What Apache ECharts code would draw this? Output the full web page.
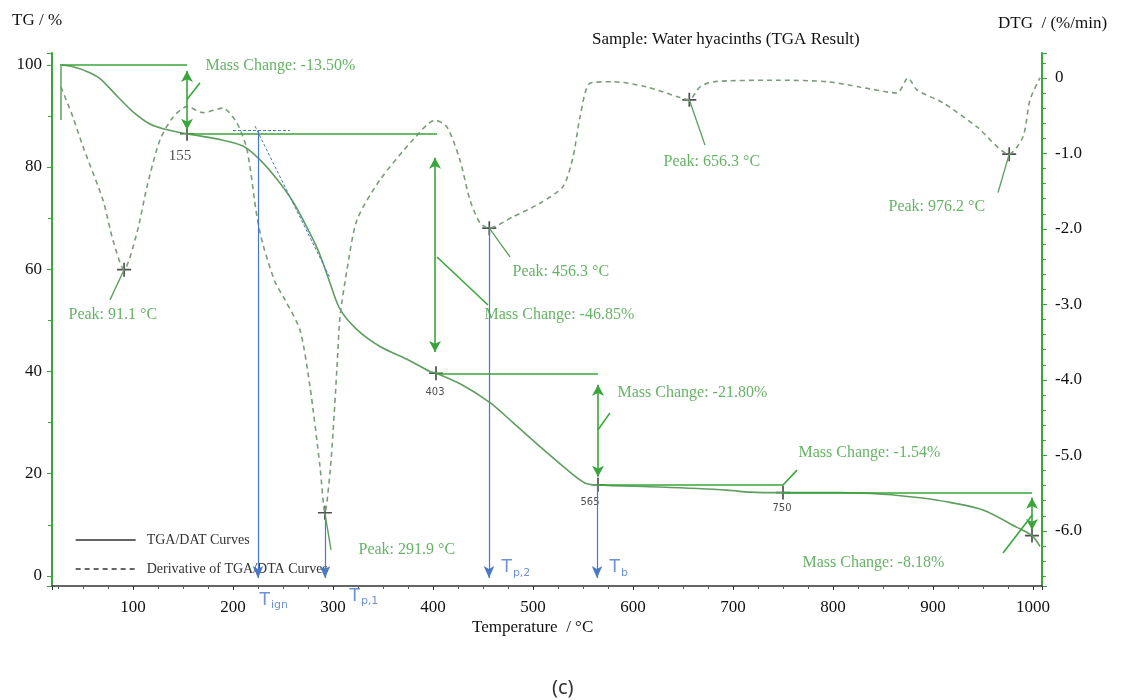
<!DOCTYPE html>
<html lang="en">
<head>
<meta charset="UTF-8">
<title>TGA</title>
<script src="https://cdn.jsdelivr.net/npm/echarts@6/dist/echarts.min.js"></script>
<style>
  html, body { margin: 0; padding: 0; background: #fff; }
  #main { width: 1127px; height: 700px; }
</style>
</head>
<body>
<div id="main"></div>
<script>
// TG curve (temperature / mass %)
var tgTemp = [27, 40, 55, 67, 84, 100, 117, 130, 154, 184, 210, 227, 244, 260, 277, 287, 297, 307, 324, 347, 374, 397, 403, 428, 457, 480, 507, 534, 552, 564, 627, 694, 717, 750, 807, 850, 887, 917, 950, 984, 999, 1007];
var tgMass = [100, 99.6, 98.6, 97.3, 93.9, 90.8, 88.4, 87.5, 86.5, 85.5, 84.1, 81.4, 77.6, 73.2, 67.0, 62.8, 57.3, 52.2, 48.2, 44.9, 42.4, 40.0, 39.7, 37.5, 33.9, 30.0, 25.3, 20.8, 18.2, 17.8, 17.4, 16.8, 16.4, 16.3, 16.3, 16.0, 15.3, 14.4, 12.9, 9.5, 7.9, 5.8];
// DTG curve (temperature / %/min)
var dtgTemp = [28, 40, 50, 70, 80, 91, 104, 114, 127, 140, 154, 170, 190, 204, 214, 224, 230, 242, 252, 267, 277, 287, 292, 297, 300, 304, 307, 314, 324, 347, 380, 402, 414, 427, 437, 447, 456, 480, 507, 530, 540, 547, 557, 580, 614, 647, 656, 667, 680, 747, 794, 827, 864, 875, 884, 910, 944, 976, 990, 997, 1007];
var dtgRate = [-0.12, -0.52, -0.91, -1.62, -2.15, -2.54, -2.05, -1.44, -0.82, -0.52, -0.38, -0.46, -0.40, -0.60, -0.95, -1.84, -2.21, -2.70, -2.94, -3.34, -4.09, -5.15, -5.76, -5.23, -4.70, -3.83, -3.17, -2.54, -1.88, -1.35, -0.82, -0.56, -0.65, -1.09, -1.62, -1.92, -1.99, -1.84, -1.66, -1.44, -1.05, -0.52, -0.07, -0.05, -0.12, -0.26, -0.29, -0.12, -0.05, -0.03, -0.05, -0.12, -0.20, 0.0, -0.16, -0.33, -0.65, -1.01, -0.78, -0.29, 0.0];

// annotations (TG axis): [t1, t2, mass]
var levels = [[28, 154, 100], [154, 404, 86.5], [403, 565, 39.65], [565, 750, 17.85], [750, 999, 16.31]];
// double arrows: [t, from, to]
var massArrows = [[154, 98.8, 87.3], [402, 81.8, 43.8], [565, 37.4, 19.4], [999, 15.3, 9.0]];
var massLeaders = [[154, 93.2, 167, 96.5], [404, 62.4, 455, 53.0], [565, 28.6, 577, 31.9], [750, 17.8, 764, 20.7], [970, 4.5, 999, 11.9]];
var massMarks = [[154, 86.5], [403, 39.65], [565, 17.85], [750, 16.31], [999, 7.9]];
// peaks (DTG axis)
var peakMarks = [[91.1, -2.54], [291.9, -5.76], [456.3, -1.99], [656.3, -0.29], [976.2, -1.01]];
var peakLeaders = [[91.1, -2.54, 77, -2.94], [291.9, -5.76, 298, -6.25], [456.3, -1.99, 477, -2.37], [656.3, -0.29, 672, -0.89], [976.2, -1.01, 965, -1.52]];
// characteristic temperatures (blue)
var blueDashed = [[200, 87.1, 257, 87.1], [222, 88.0, 297, 58.3]];
var blueArrows = [[225, 87.1], [292, 12.1], [456, 68.3], [564, 17.8]];

var greenTexts = [
  ['Mass Change: -13.50%', 172, 99.7],
  ['Peak: 91.1 °C', 35, 51.0],
  ['Mass Change: -46.85%', 451, 51.0],
  ['Peak: 456.3 °C', 479, 59.5],
  ['Mass Change: -21.80%', 584, 35.8],
  ['Peak: 656.3 °C', 630, 81.0],
  ['Peak: 976.2 °C', 855, 72.2],
  ['Mass Change: -1.54%', 765, 24.0],
  ['Peak: 291.9 °C', 325, 5.1],
  ['Mass Change: -8.18%', 769, 2.5]
];
var tempTexts = [['155', 147, 82.2, 15], ['403', 402, 36.0, 10], ['565', 557, 14.3, 10], ['750', 749, 13.2, 10]];
var blueTexts = [['T{s|ign}', 226, -4.8], ['T{s|p,1}', 316, -4.0], ['T{s|p,2}', 468, 1.6], ['T{s|b}', 576, 1.6]];

var green = '#3aa53a';
var textGreen = '#3f9f3f';
var blue = '#4a78c8';
var serif = '"Liberation Serif", "Times New Roman", serif';

function pairs(xs, ys) {
  var out = [];
  for (var i = 0; i < xs.length; i++) out.push([xs[i], ys[i]]);
  return out;
}

var tgLines = [];
levels.forEach(function (l) {
  tgLines.push([{ coord: [l[0], l[2]] }, { coord: [l[1], l[2]] }]);
});
massArrows.forEach(function (a) {
  tgLines.push([{ coord: [a[0], a[1]], symbol: 'arrow' }, { coord: [a[0], a[2]], symbol: 'arrow' }]);
});
massLeaders.forEach(function (a) {
  tgLines.push([{ coord: [a[0], a[1]] }, { coord: [a[2], a[3]] }]);
});
tgLines.push([{ coord: [28, 100], lineStyle: { color: '#6aa86a' } }, { coord: [28, 89.2] }]);

var blueLines = [];
blueDashed.forEach(function (a) {
  blueLines.push([{ coord: [a[0], a[1]] }, { coord: [a[2], a[3]] }]);
});
var blueArrowLines = [];
blueArrows.forEach(function (a) {
  blueArrowLines.push([{ coord: [a[0], a[1]] }, { coord: [a[0], -0.4], symbol: 'arrow' }]);
});

var peakLines = [];
peakLeaders.forEach(function (a) {
  peakLines.push([{ coord: [a[0], a[1]] }, { coord: [a[2], a[3]] }]);
});

var crossPath = 'path://M0,4.4H10V5.6H0Z M4.4,0H5.6V10H4.4Z';

var chart = echarts.init(document.getElementById('main'));
var option = {
  animation: false,
  grid: { left: 52, right: 85, top: 53, bottom: 114 },
  legend: {
    left: 70, top: 528, orient: 'vertical', itemWidth: 60, itemHeight: 10, itemGap: 15,
    textStyle: { fontFamily: serif, fontSize: 14, color: '#333', padding: [0, 0, 0, 6] },
    data: [
      { name: 'TGA/DAT Curves', lineStyle: { color: '#333', width: 1.3 }, itemStyle: { opacity: 0 } },
      { name: 'Derivative of TGA/DTA Curves', lineStyle: { color: '#333', width: 1.3 }, itemStyle: { opacity: 0 } }
    ]
  },
  graphic: [
    { type: 'text', left: 12, top: 12, style: { text: 'TG / %', font: '17px ' + serif, fill: '#111' } },
    { type: 'text', left: 998, top: 15, style: { text: 'DTG  / (%/min)', font: '17px ' + serif, fill: '#111' } },
    { type: 'text', left: 592, top: 31, style: { text: 'Sample: Water hyacinths (TGA Result)', font: '17px ' + serif, fill: '#111' } },
    { type: 'text', left: 472, top: 619, style: { text: 'Temperature  / °C', font: '17px ' + serif, fill: '#111' } },
    { type: 'text', left: 552, top: 678, style: { text: '(c)', font: '20px "Noto Sans", sans-serif', fill: '#333' } }
  ],
  xAxis: {
    type: 'value', min: 19, max: 1009, splitNumber: 10,
    axisLine: { onZero: false, lineStyle: { color: '#333', width: 1.5 } },
    axisTick: { length: 4, lineStyle: { color: '#333' } },
    minorTick: { show: true, splitNumber: 4, length: 3, lineStyle: { color: '#555' } },
    splitLine: { show: false },
    axisLabel: {
      margin: 13, color: '#111', fontFamily: serif, fontSize: 17,
      formatter: function (v) { return (v >= 100 && Math.abs(v % 100) < 1e-6) ? String(v) : ''; }
    }
  },
  yAxis: [
    {
      type: 'value', position: 'left', min: -1.96, max: 102.3, splitNumber: 5,
      axisLine: { show: true, onZero: false, lineStyle: { color: green, width: 2 } },
      axisTick: { show: true, length: 5, lineStyle: { color: green } },
      minorTick: { show: true, splitNumber: 2, length: 4, lineStyle: { color: green } },
      splitLine: { show: false },
      axisLabel: {
        margin: 10, color: '#111', fontFamily: serif, fontSize: 17,
        formatter: function (v) { return (v >= 0 && v <= 100 && Math.abs(v % 20) < 1e-6) ? String(v) : ''; }
      }
    },
    {
      type: 'value', position: 'right', min: -6.73, max: 0.33, splitNumber: 7,
      axisLine: { show: true, onZero: false, lineStyle: { color: green, width: 2 } },
      axisTick: { show: true, length: 5, lineStyle: { color: green } },
      minorTick: { show: true, splitNumber: 5, length: 4, lineStyle: { color: green } },
      splitLine: { show: false },
      axisLabel: {
        margin: 13, color: '#111', fontFamily: serif, fontSize: 17,
        formatter: function (v) {
          if (Math.abs(v - Math.round(v)) > 1e-6) return '';
          var r = Math.round(v);
          return r === 0 ? '0' : r.toFixed(1);
        }
      }
    }
  ],
  series: [
    {
      name: 'TGA/DAT Curves', type: 'line', yAxisIndex: 0, symbol: 'none', smooth: 0.3,
      data: pairs(tgTemp, tgMass),
      lineStyle: { color: '#5f9e5f', width: 1.6 },
      itemStyle: { color: '#5f9e5f' }
    },
    {
      name: 'Derivative of TGA/DTA Curves', type: 'line', yAxisIndex: 1, symbol: 'none', smooth: 0.25,
      data: pairs(dtgTemp, dtgRate),
      lineStyle: { color: '#7c9c7c', width: 1.6, type: [5, 4] },
      itemStyle: { color: '#7c9c7c' }
    },
    {
      name: 'tg-annot', type: 'line', yAxisIndex: 0, data: [], clip: false,
      markLine: {
        silent: true, symbol: ['none', 'none'], symbolSize: [9, 11], precision: 4,
        label: { show: false }, lineStyle: { color: green, width: 1.6, type: 'solid' },
        data: tgLines
      }
    },
    {
      name: 'blue-dashed', type: 'line', yAxisIndex: 0, data: [], clip: false,
      markLine: {
        silent: true, symbol: ['none', 'none'], label: { show: false },
        lineStyle: { color: blue, width: 1, type: [3, 2] },
        data: blueLines
      }
    },
    {
      name: 'blue-arrows', type: 'line', yAxisIndex: 0, data: [], clip: false,
      markLine: {
        silent: true, symbol: ['none', 'none'], symbolSize: [8, 12], label: { show: false },
        lineStyle: { color: blue, width: 1.2, type: 'solid' },
        data: blueArrowLines
      }
    },
    {
      name: 'peak-annot', type: 'line', yAxisIndex: 1, data: [], clip: false,
      markLine: {
        silent: true, symbol: ['none', 'none'], label: { show: false },
        lineStyle: { color: '#5fa25f', width: 1.4, type: 'solid' },
        data: peakLines
      }
    },
    {
      name: 'mass-marks', type: 'scatter', yAxisIndex: 0, clip: false, silent: true,
      symbol: crossPath, symbolSize: 14, itemStyle: { color: '#222' },
      data: massMarks
    },
    {
      name: 'peak-marks', type: 'scatter', yAxisIndex: 1, clip: false, silent: true,
      symbol: crossPath, symbolSize: 14, itemStyle: { color: '#222' },
      data: peakMarks
    },
    {
      name: 'green-text', type: 'scatter', yAxisIndex: 0, clip: false, silent: true,
      symbolSize: 1, itemStyle: { color: 'rgba(0,0,0,0)' },
      label: { show: true, position: 'right', distance: 0, color: textGreen, fontFamily: serif, fontSize: 16 },
      data: greenTexts.map(function (t) {
        return { value: [t[1], t[2]], label: { formatter: t[0] } };
      })
    },
    {
      name: 'temp-text', type: 'scatter', yAxisIndex: 0, clip: false, silent: true,
      symbolSize: 1, itemStyle: { color: 'rgba(0,0,0,0)' },
      data: tempTexts.map(function (t) {
        return {
          value: [t[1], t[2]],
          label: {
            show: true, position: 'inside', formatter: t[0], color: '#222', fontSize: t[3],
            fontFamily: t[3] > 12 ? serif : '"DejaVu Sans", sans-serif'
          }
        };
      })
    },
    {
      name: 'blue-text', type: 'scatter', yAxisIndex: 0, clip: false, silent: true,
      symbolSize: 1, itemStyle: { color: 'rgba(0,0,0,0)' },
      label: {
        show: true, position: 'right', distance: 0, color: blue,
        fontFamily: '"DejaVu Sans", sans-serif', fontSize: 17,
        rich: { s: { fontSize: 11, color: blue, fontFamily: '"DejaVu Sans", sans-serif', padding: [10, 0, 0, 1] } }
      },
      data: blueTexts.map(function (t) {
        return { value: [t[1], t[2]], label: { formatter: t[0] } };
      })
    }
  ]
};
chart.setOption(option);
</script>
</body>
</html>
